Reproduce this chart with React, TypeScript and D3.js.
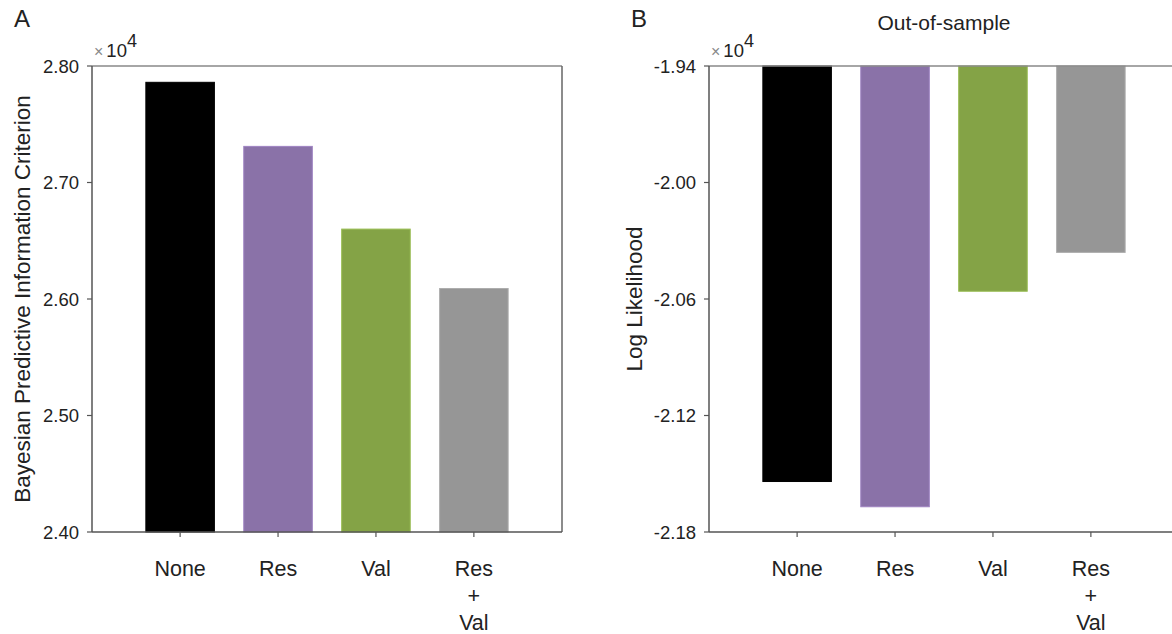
import React from "react";
import * as d3 from "d3";

const categories = ["None", "Res", "Val", "Res+Val"];
const colors = ["#000000", "#8a72a8", "#84a346", "#969696"];
const bpicValues = [2.786, 2.731, 2.66, 2.609];
const bpicTicks = [2.4, 2.5, 2.6, 2.7, 2.8];
const llValues = [-2.154, -2.167, -2.056, -2.036];
const llTicks = [-2.18, -2.12, -2.06, -2.0, -1.94];

const W = 1172;
const H = 634;
const top = 66;
const bottom = 532;
const font = "Arial, 'Liberation Sans', sans-serif";
const textColor = "#222";

const Panel = ({ x0, letter, title, yLabel, labelOffset, values, ticks, domain, fromTop }) => {
  const x1 = x0 + 470;
  const x = d3.scaleBand().domain(categories).range([x0, x1]).paddingInner(0.3).paddingOuter(0.55);
  const y = d3.scaleLinear().domain(domain).range([bottom, top]);
  const base = fromTop ? domain[1] : domain[0];
  return (
    <g fontFamily={font}>
      <text x={x0 - 78} y={27} fontSize={24} fill={textColor}>{letter}</text>
      {title && (
        <text x={(x0 + x1) / 2} y={30} fontSize={21} textAnchor="middle" fill={textColor}>{title}</text>
      )}
      <text x={x0 + 2} y={57} fontSize={18.5} fill={textColor}>
        <tspan fill="#888" fontSize={16}>×</tspan>
        <tspan dx={3}>10</tspan>
        <tspan dy={-10} fontSize={18}>4</tspan>
      </text>
      {values.map((v, i) => {
        const c = categories[i];
        const ya = y(base);
        const yb = y(v);
        return (
          <rect key={c} x={x(c)} width={x.bandwidth()} y={Math.min(ya, yb)} height={Math.abs(yb - ya)}
            fill={colors[i]} stroke={d3.color(colors[i]).brighter(0.4).toString()} strokeWidth={1} />
        );
      })}
      <line x1={x0} x2={x1} y1={top} y2={top} stroke="#888" strokeWidth={1.5} />
      <line x1={x1} x2={x1} y1={top} y2={bottom} stroke="#666" strokeWidth={1.5} />
      <line x1={x0} x2={x0} y1={top} y2={bottom} stroke="#555" strokeWidth={1.5} />
      <line x1={x0} x2={x1} y1={bottom} y2={bottom} stroke="#555" strokeWidth={1.5} />
      {ticks.map((t) => (
        <g key={t}>
          <line x1={x0 - 5} x2={x0} y1={y(t)} y2={y(t)} stroke="#555" strokeWidth={1.2} />
          <text x={x0 - 13} y={y(t)} dy="0.36em" fontSize={18.5} textAnchor="end" fill={textColor}>
            {d3.format(".2f")(t).replace("−", "-")}
          </text>
        </g>
      ))}
      {categories.map((c) => {
        const cx = x(c) + x.bandwidth() / 2;
        const lines = c === "Res+Val" ? ["Res", "+", "Val"] : [c];
        return (
          <g key={c}>
            <line x1={cx} x2={cx} y1={bottom} y2={bottom + 5} stroke="#555" strokeWidth={1.2} />
            <text x={cx} y={576} fontSize={21.5} textAnchor="middle" fill={textColor}>
              {lines.map((l, j) => (
                <tspan key={j} x={cx} dy={j === 0 ? 0 : 27}>{l}</tspan>
              ))}
            </text>
          </g>
        );
      })}
      <text transform={`translate(${x0 - labelOffset},${(top + bottom) / 2}) rotate(-90)`} fontSize={22.5}
        textAnchor="middle" fill={textColor}>{yLabel}</text>
    </g>
  );
};

export default function App() {
  return (
    <svg width={W} height={H} style={{ position: "absolute", left: 0, top: 0, background: "#fff" }}>
      <rect width={W} height={H} fill="#fff" />
      <Panel x0={92} letter="A" yLabel="Bayesian Predictive Information Criterion" labelOffset={62}
        values={bpicValues} ticks={bpicTicks} domain={[2.4, 2.8]} fromTop={false} />
      <Panel x0={709} letter="B" title="Out-of-sample" yLabel="Log Likelihood" labelOffset={67}
        values={llValues} ticks={llTicks} domain={[-2.18, -1.94]} fromTop={true} />
    </svg>
  );
}
